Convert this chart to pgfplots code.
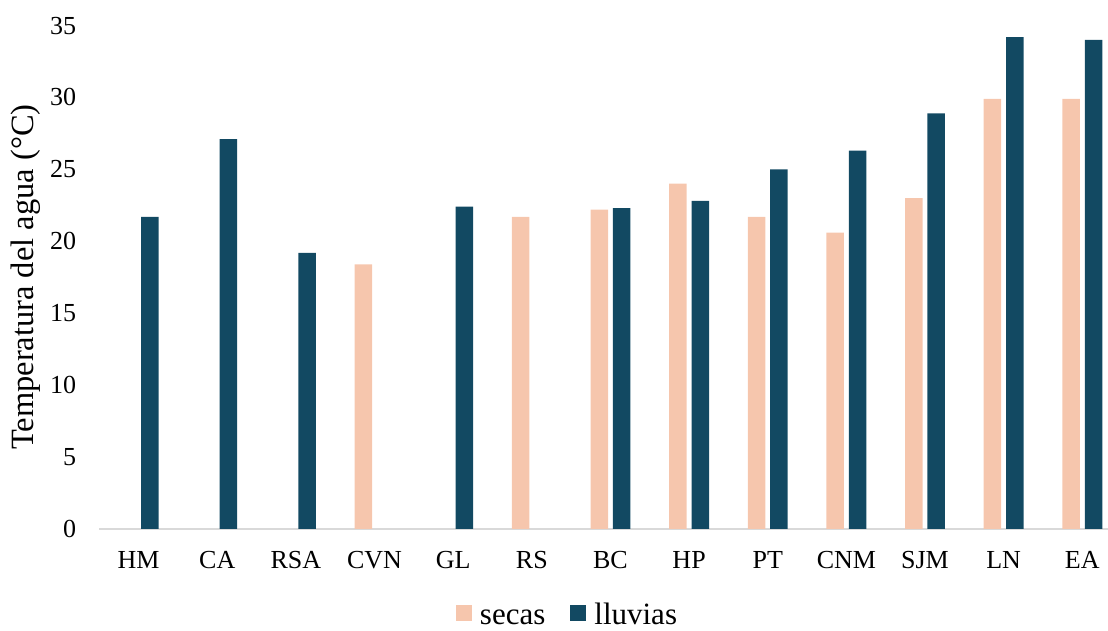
\documentclass[border=0pt]{standalone}
\usepackage{fontspec}
\setmainfont{Liberation Serif}
\usepackage{pgfplots}
\pgfplotsset{compat=1.18}

\definecolor{secas}{HTML}{F6C6AD}
\definecolor{lluvias}{HTML}{124962}
\definecolor{axisgray}{HTML}{D9D9D9}

\begin{document}
\begin{tikzpicture}
\useasboundingbox (0,0) rectangle (1108pt,631pt);
\begin{axis}[
  at={(99.3pt,102.2pt)}, anchor=south west,
  scale only axis, width=1008.7pt, height=503.2pt,
  xmin=-0.5, xmax=12.327, ymin=0, ymax=35,
  ybar, bar width=17.5pt,
  axis x line*=bottom, axis y line*=left,
  y axis line style={draw=none},
  x axis line style={axisgray, line width=1.5pt},
  major tick length=0pt,
  xtick={0,...,12},
  xticklabels={HM,CA,RSA,CVN,GL,RS,BC,HP,PT,CNM,SJM,LN,EA},
  ytick={0,5,...,35},
  /pgf/number format/assume math mode=true,
  tick label style={font=\fontsize{26}{30}\selectfont},
  xticklabel style={anchor=base, inner sep=0pt, yshift=-39.3pt},
  yticklabel style={anchor=east, inner sep=0pt, xshift=-23pt},
  ylabel={Temperatura del agua (°C)},
  ylabel style={at={(rel axis cs:-0.0727,0.5)}, anchor=center, font=\fontsize{32.5}{38}\selectfont},
  legend columns=2,
  legend cell align=left,
  legend style={at={(0.3536,-0.1716)}, anchor=west, draw=none, fill=none,
    inner sep=0pt, outer sep=0pt,
    font=\fontsize{31}{36}\selectfont,
    nodes={inner sep=0pt, text height=0.7em, text depth=0pt},
    /tikz/every odd column/.style={column sep=8pt},
    /tikz/every even column/.style={column sep=25pt}},
]
% dry season
\addplot[fill=secas, draw=none, bar shift=-11.2pt,
  legend image code/.code={\fill[secas] (0pt,0pt) rectangle (16pt,16pt);}]
  coordinates {(3,18.4) (5,21.7) (6,22.2) (7,24.0) (8,21.7) (9,20.6)
               (10,23.0) (11,29.9) (12,29.9)};
% rainy season
\addplot[fill=lluvias, draw=none, bar shift=11.2pt,
  legend image code/.code={\fill[lluvias] (0pt,0pt) rectangle (16pt,16pt);}]
  coordinates {(0,21.7) (1,27.1) (2,19.2) (4,22.4) (6,22.3) (7,22.8)
               (8,25.0) (9,26.3) (10,28.9) (11,34.2) (12,34.0)};
\legend{secas,lluvias}
\end{axis}
\end{tikzpicture}
\end{document}
